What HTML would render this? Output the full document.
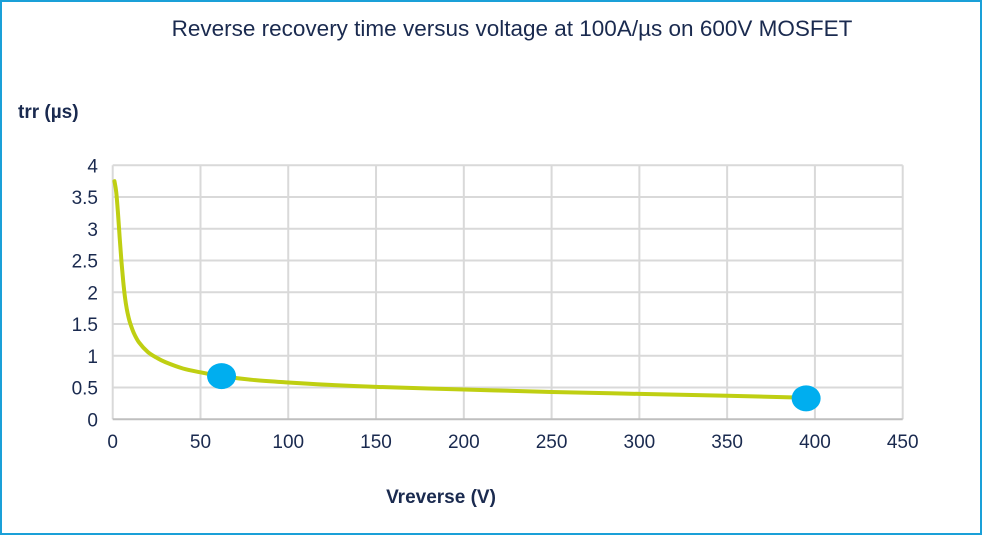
<!DOCTYPE html>
<html><head><meta charset="utf-8"><style>
html,body{margin:0;padding:0;background:#fff}
svg{display:block;font-family:"Liberation Sans",Arial,sans-serif}
</style></head><body>
<svg id="chart" width="983" height="536" viewBox="0 0 983 536">
<rect x="1" y="1" width="980" height="533" fill="#fff" stroke="#1aa0d8" stroke-width="2"/>
<text x="512" y="36" text-anchor="middle" font-size="22.5" fill="#1a2a4f">Reverse recovery time versus voltage at 100A/µs on 600V MOSFET</text>
<text x="18" y="118" font-size="19" font-weight="bold" fill="#1a2a4f">trr (µs)</text>
<text x="441" y="503" text-anchor="middle" font-size="19" font-weight="bold" fill="#1a2a4f">Vreverse (V)</text>
<g id="grid"></g><g id="ticks"></g><g id="series"></g>
</svg>
<script>
const xTicks=[0,50,100,150,200,250,300,350,400,450];
const yTicks=[0,0.5,1,1.5,2,2.5,3,3.5,4];
const curveV=[1,2,3,4,5,6,7,8,9,10,12,15,20,25,30,40,50,62,80,100,125,150,200,250,300,350,395];
const curveT=[3.75,3.58,3.25,2.85,2.48,2.17,1.92,1.74,1.61,1.51,1.36,1.21,1.06,0.97,0.9,0.8,0.74,0.68,0.62,0.58,0.54,0.51,0.47,0.43,0.40,0.37,0.34];
const markerV=[62,395];
const markerT=[0.68,0.33];
const X0=112.7,XS=790/450,Y0=419.3,YS=254/4;
function sx(v){return X0+v*XS;}
function sy(t){return Y0-t*YS;}
const NS="http://www.w3.org/2000/svg";
function mk(tag,attrs,parent){const e=document.createElementNS(NS,tag);for(const k in attrs)e.setAttribute(k,attrs[k]);document.getElementById(parent).appendChild(e);return e;}
xTicks.forEach(v=>{
 const l=mk('line',{x1:sx(v),x2:sx(v),y1:sy(4),y2:sy(0),stroke:'#d9d9d9','stroke-width':2},'grid');
 
 
 const t=mk('text',{x:sx(v),y:448,'text-anchor':'middle','font-size':19,fill:'#1a2a4f'},'ticks');
 t.textContent=v;
 
 
});
yTicks.forEach(v=>{
 const l=mk('line',{x1:sx(0),x2:sx(450),y1:sy(v),y2:sy(v),stroke:v===0?'#bfbfbf':'#d9d9d9','stroke-width':2},'grid');
 
 
 const t=mk('text',{x:98,y:sy(v)+7,'text-anchor':'end','font-size':19,fill:'#1a2a4f'},'ticks');
 t.textContent=v;
 
 
});
const pts=curveV.map((v,i)=>[sx(v),sy(curveT[i])]);
let d='M'+pts[0][0]+','+pts[0][1];
for(let i=0;i<pts.length-1;i++){
 const p0=pts[i-1]||pts[i],p1=pts[i],p2=pts[i+1],p3=pts[i+2]||p2;
 const c1x=p1[0]+(p2[0]-p0[0])/6,c1y=p1[1]+(p2[1]-p0[1])/6;
 const c2x=p2[0]-(p3[0]-p1[0])/6,c2y=p2[1]-(p3[1]-p1[1])/6;
 d+=` C${c1x},${c1y} ${c2x},${c2y} ${p2[0]},${p2[1]}`;
}
const path=mk('path',{d:d,fill:'none',stroke:'#bfcf12','stroke-width':4,'stroke-linecap':'round','stroke-linejoin':'round'},'series');


markerV.forEach((v,i)=>{
 const c=mk('ellipse',{cx:sx(v),cy:sy(markerT[i]),rx:14.5,ry:13,fill:'#00aeef'},'series');
 
 
});
</script>
</body></html>
